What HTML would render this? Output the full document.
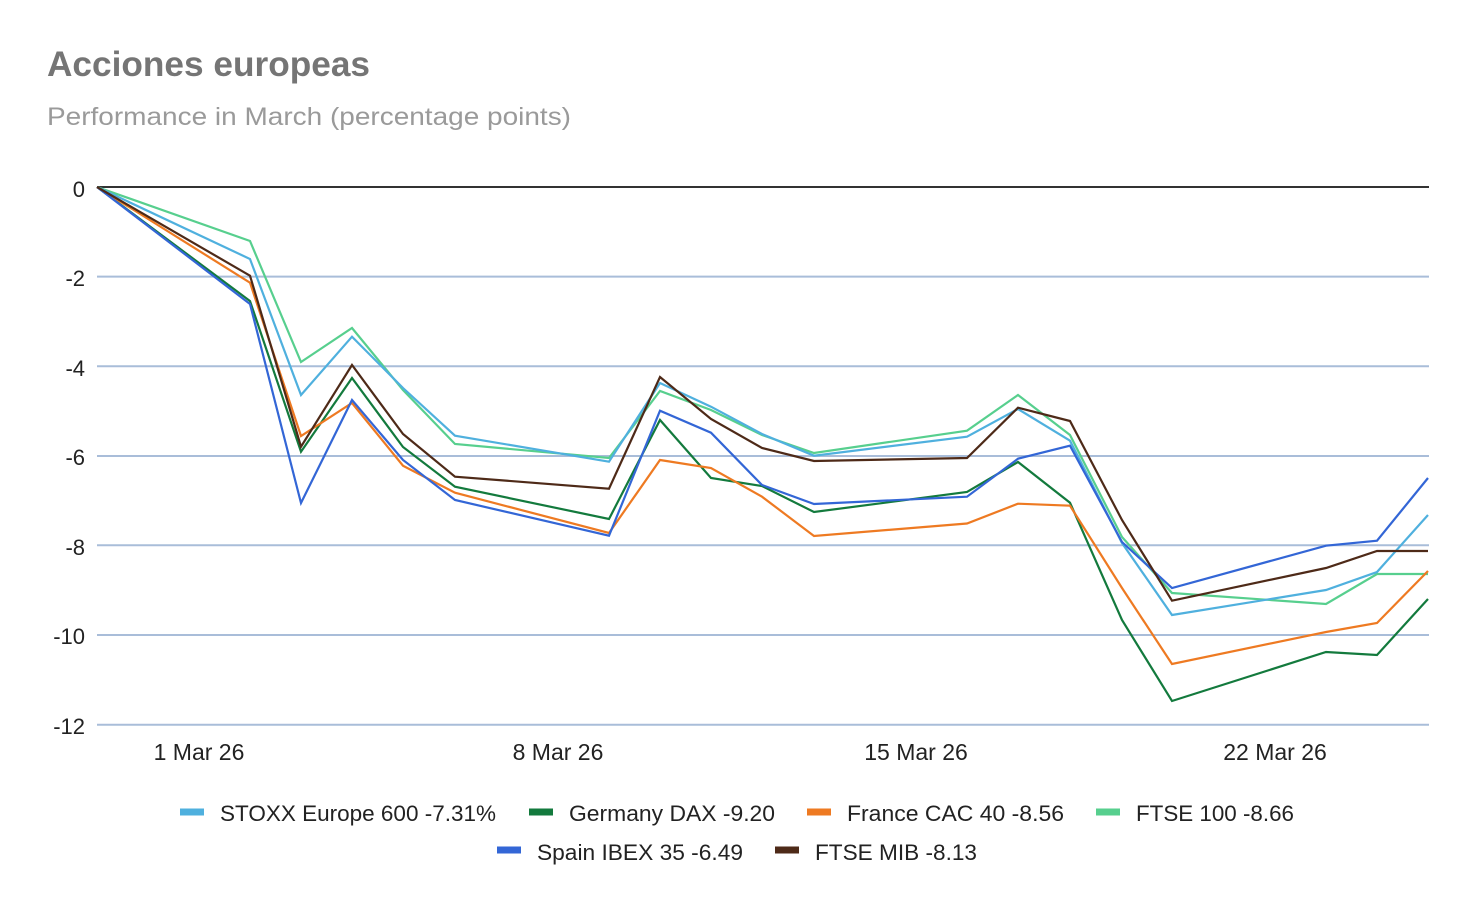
<!DOCTYPE html>
<html><head><meta charset="utf-8"><style>
html,body{margin:0;padding:0;background:#fff;}
svg{display:block;}
text{font-family:"Liberation Sans",Arial,sans-serif;}
</style></head><body>
<svg width="1474" height="910" viewBox="0 0 1474 910" xmlns="http://www.w3.org/2000/svg">
<rect width="1474" height="910" fill="#fff"/>
<text x="47" y="76" font-size="35" font-weight="bold" fill="#757575" textLength="323" lengthAdjust="spacingAndGlyphs">Acciones europeas</text>
<text x="47" y="125" font-size="25" fill="#9a9a9a" textLength="524" lengthAdjust="spacingAndGlyphs">Performance in March (percentage points)</text>

<g stroke="#a9bdd9" stroke-width="2">
<line x1="97" y1="276.6" x2="1429" y2="276.6"/>
<line x1="97" y1="366.3" x2="1429" y2="366.3"/>
<line x1="97" y1="456" x2="1429" y2="456"/>
<line x1="97" y1="545.3" x2="1429" y2="545.3"/>
<line x1="97" y1="635" x2="1429" y2="635"/>
<line x1="97" y1="724.7" x2="1429" y2="724.7"/>
</g>
<line x1="97" y1="187" x2="1429" y2="187" stroke="#333" stroke-width="2"/>

<g font-size="22" fill="#222" text-anchor="end">
<text x="85" y="197">0</text>
<text x="85" y="286">-2</text>
<text x="85" y="376">-4</text>
<text x="85" y="465">-6</text>
<text x="85" y="555">-8</text>
<text x="85" y="644">-10</text>
<text x="85" y="734">-12</text>
</g>
<g font-size="23" fill="#222" text-anchor="middle">
<text x="199" y="760">1 Mar 26</text>
<text x="558" y="760">8 Mar 26</text>
<text x="916" y="760">15 Mar 26</text>
<text x="1275" y="760">22 Mar 26</text>
</g>

<g fill="none" stroke-width="2.2" stroke-linejoin="miter">
<polyline stroke="#57cf8e" points="97,187 250,241 301,362 352,328 403,390 455,444 609,458 660,391 711,410 762,435 814,453 967,430.7 1018,395 1070,435 1122,537 1172,593 1326,604 1377,574 1428,574"/>
<polyline stroke="#4fb0de" points="97,187 250,259 301,395 352,336.7 403,388 455,435.7 609,461.7 660,383 711,406.7 762,434 814,455.7 967,436.7 1018,409 1070,440.7 1122,543 1172,615 1326,590 1377,572 1428,515"/>
<polyline stroke="#137a3d" points="97,187 250,301 301,451.7 352,378 403,447 455,486.7 609,519 660,420 711,478 762,486 814,512 967,492 1018,462 1070,502.7 1122,620 1172,701 1326,652 1377,655 1428,599"/>
<polyline stroke="#ee7a22" points="97,187 250,282.7 301,436 352,403 403,465.7 455,492.7 609,533 660,460 711,468 762,496.7 814,536 967,523.5 1018,503.7 1070,505.7 1122,588 1172,664 1326,632 1377,623 1428,571"/>
<polyline stroke="#3366d6" points="97,187 250,304 301,503 352,400 403,460 455,500 609,535.7 660,410.7 711,432.7 762,485 814,504 967,496.7 1018,458.7 1070,445.7 1122,542 1172,588 1326,545.7 1377,540.7 1428,478"/>
<polyline stroke="#4e2a18" points="97,187 250,275.7 301,446.7 352,365 403,434 455,476.7 609,488.7 660,377 711,419 762,448 814,461 967,458 1018,407.7 1070,421 1122,520 1172,600.7 1326,568 1377,551 1428,551"/>
</g>

<g font-size="22" fill="#222">
<rect x="180" y="808.5" width="24" height="7" fill="#4fb0de"/>
<text x="220" y="821" textLength="276" lengthAdjust="spacingAndGlyphs">STOXX Europe 600 -7.31%</text>
<rect x="529" y="808.5" width="24" height="7" fill="#137a3d"/>
<text x="569" y="821" textLength="206" lengthAdjust="spacingAndGlyphs">Germany DAX -9.20</text>
<rect x="807" y="808.5" width="24" height="7" fill="#ee7a22"/>
<text x="847" y="821" textLength="217" lengthAdjust="spacingAndGlyphs">France CAC 40 -8.56</text>
<rect x="1096" y="808.5" width="24" height="7" fill="#57cf8e"/>
<text x="1136" y="821" textLength="158" lengthAdjust="spacingAndGlyphs">FTSE 100 -8.66</text>
<rect x="497" y="846.5" width="24" height="7" fill="#3366d6"/>
<text x="537" y="860" textLength="206" lengthAdjust="spacingAndGlyphs">Spain IBEX 35 -6.49</text>
<rect x="775" y="846.5" width="24" height="7" fill="#4e2a18"/>
<text x="815" y="860" textLength="162" lengthAdjust="spacingAndGlyphs">FTSE MIB -8.13</text>
</g>
</svg>
</body></html>
